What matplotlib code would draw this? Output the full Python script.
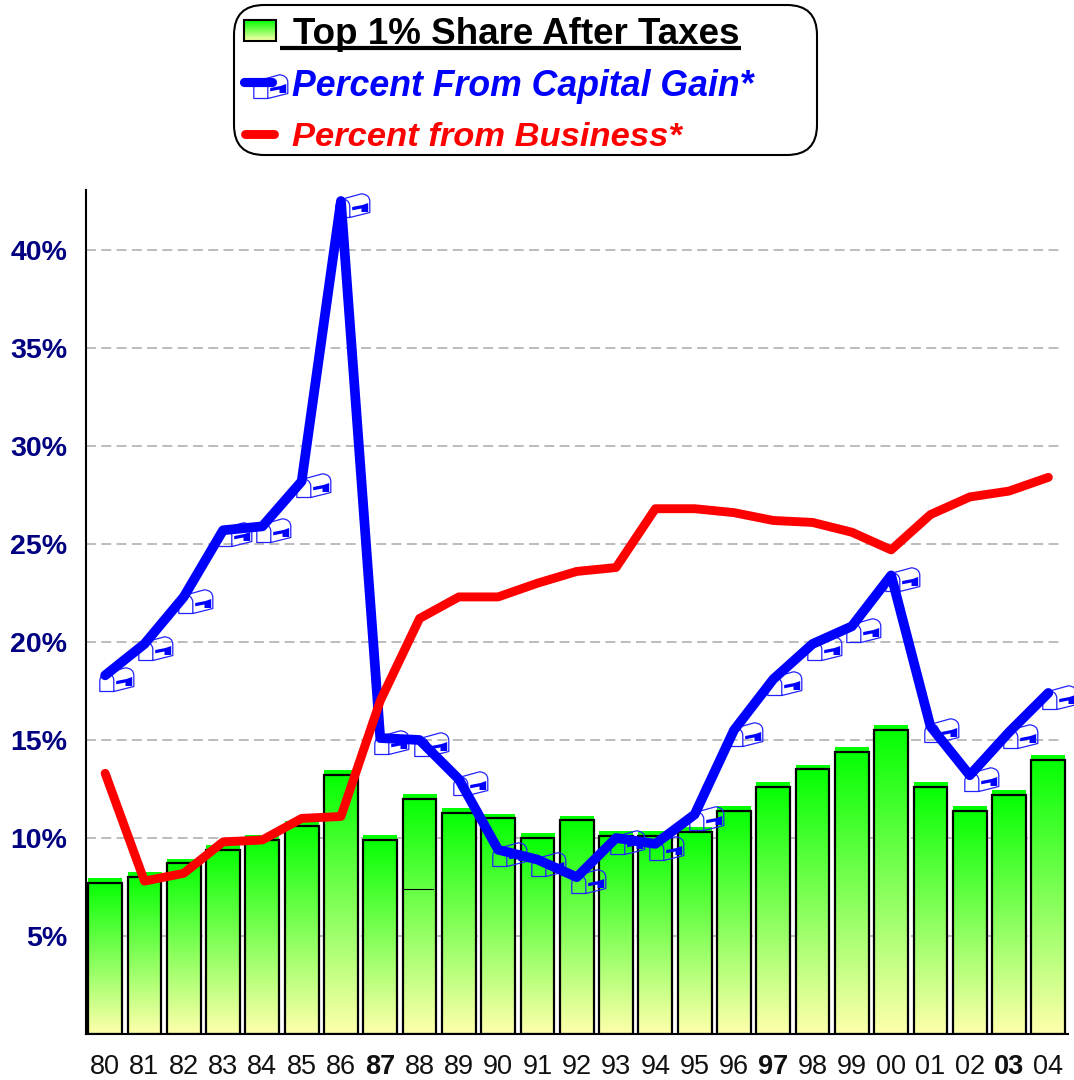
import numpy as np
import matplotlib
matplotlib.use("Agg")
import matplotlib.pyplot as plt
from matplotlib.path import Path
from matplotlib.patches import FancyBboxPatch, Rectangle

years = ["80","81","82","83","84","85","86","87","88","89","90","91","92","93","94","95","96","97","98","99","00","01","02","03","04"]
bold_years = ["87","97","03"]
top1_share = [7.7,8.0,8.7,9.4,9.9,10.6,13.2,9.9,12.0,11.3,11.0,10.0,10.9,10.1,10.1,10.3,11.4,12.6,13.5,14.4,15.5,12.6,11.4,12.2,14.0]
capital_gain = [18.3,19.9,22.3,25.7,25.9,28.2,42.5,15.1,15.0,13.0,9.4,8.9,8.0,10.0,9.7,11.2,15.5,18.1,19.9,20.8,23.4,15.7,13.2,15.4,17.4]
business = [13.3,7.8,8.2,9.8,9.9,11.0,11.1,17.0,21.2,22.3,22.3,23.0,23.6,23.8,26.8,26.8,26.6,26.2,26.1,25.6,24.7,26.5,27.4,27.7,28.4]
y_ticks = [5,10,15,20,25,30,35,40]

W, H = 1074, 1080
DPI = 100
plt.rcParams['font.family'] = ['Liberation Sans', 'DejaVu Sans']
fig = plt.figure(figsize=(W/DPI, H/DPI), dpi=DPI, facecolor='white')
L, R, T, B = 85.5, 1068, 190, 1034
ax = fig.add_axes([L/W, 1-B/H, (R-L)/W, (B-T)/H])
ax.set_facecolor('none')
YMAX = (B-T)/19.6

GREEN = np.array([0, 255, 0])/255
PALE = np.array([255, 255, 172])/255
t = np.linspace(0, 1, 128)[:, None, None]
grad = GREEN[None, None, :]*(1-t) + PALE[None, None, :]*t

ax.hlines(y_ticks, -0.5, 24.35, color='#aaaaaa', lw=1.1, linestyle=(0, (6.5, 3.5)), zorder=0)
bw = 0.86
lift = 0.22
for i, v in enumerate(top1_share):
    ax.imshow(grad, extent=(i-bw/2, i+bw/2, 0, v+lift), aspect='auto', zorder=2, interpolation='bilinear')
    ax.add_patch(Rectangle((i-bw/2, 0), bw, v, fill=False, ec='black', lw=1.6, zorder=3))
ax.plot([7.55, 8.35], [7.4, 7.4], color='black', lw=0.8, zorder=3.2)
ax.set_xlim(-0.5, 24.5)
ax.set_ylim(0, YMAX)

M, L_, C, Z = Path.MOVETO, Path.LINETO, Path.CURVE3, Path.CLOSEPOLY
# mailbox marker outline, in pixels relative to the data point (y up)
box_verts = [(-5.7,-5),(-5.7,-16),(8.3,-16),(8.3,-4),
             (8.3,-4),(7,3),(0,2),(-5,1),(-5.7,-5),
             (8.3,-16),(28.3,-11),(28.3,0),(28.3,7),(20,7.7),(3,3)]
box_codes = [M,L_,L_,L_,
             M,C,C,C,C,
             M,L_,L_,C,C,L_]
box = Path(box_verts, box_codes)
flag_verts = [(10.7,-5.5),(21,-3.5),(26.7,-1.5),(26.7,-10.5),(20,-10.5),(20,-7),(10.7,-8.8),(10.7,-5.5),(28.3,0)]
flag = Path(flag_verts, [M,L_,L_,L_,L_,L_,L_,Z,M])
ms = 2*28.3*72/DPI   # largest coordinate maps to half the marker size
xs = np.arange(len(years))
ax.plot(xs, capital_gain, ls='none', marker=box, ms=ms, mfc='none', mec='#2222ff', mew=0.9, zorder=4, clip_on=False)
ax.plot(xs, capital_gain, ls='none', marker=flag, ms=ms, mfc='#0000ff', mec='none', zorder=4.1, clip_on=False)
ax.plot(xs, capital_gain, color='#0000ff', lw=7.0, solid_joinstyle='round', solid_capstyle='round', zorder=5, clip_on=False)
ax.plot(xs, business, color='#ff0000', lw=6.4, solid_joinstyle='round', solid_capstyle='round', zorder=6, clip_on=False)

for s in ['top', 'right']:
    ax.spines[s].set_visible(False)
for s in ['left', 'bottom']:
    ax.spines[s].set_linewidth(1.5)
ax.set_yticks(y_ticks)
ax.set_yticklabels([f"{v}%" for v in y_ticks], fontsize=20.5, fontweight='bold', color='#000080')
ax.tick_params(axis='y', length=0, pad=13)
ax.set_xticks(xs)
ax.set_xticklabels(years, fontsize=19.5)
ax.tick_params(axis='x', direction='in', length=11, width=0.9, color='#333333', pad=14.5)
for lab in ax.get_xticklabels():
    lab.set_color('#111111')
    if lab.get_text() in bold_years:
        lab.set_fontweight('bold')

# legend in pixel coordinates
ov = fig.add_axes([0, 0, 1, 1])
ov.axis('off'); ov.patch.set_alpha(0)
ov.add_patch(FancyBboxPatch((234+30, 5+30), 583-60, 150-60, boxstyle='round,pad=30,rounding_size=30',
                            fc='white', ec='black', lw=1.5))
ov.imshow(grad, extent=(244, 276, 41, 20), aspect='auto', zorder=3)
ov.add_patch(Rectangle((244, 20), 32, 21, fill=False, ec='black', lw=1.5, zorder=4))
ov.set_xlim(0, W); ov.set_ylim(H, 0)
ov.text(293, 44, "Top 1% Share After Taxes", fontsize=26.5, fontweight='bold', color='black', va='baseline', ha='left', zorder=5)
ov.plot([280, 741], [47.5, 47.5], color='black', lw=3, solid_capstyle='butt', zorder=5)
ov.text(292, 96, "Percent From Capital Gain*", fontsize=25.7, fontweight='bold', style='italic', color='#0000ff', va='baseline', zorder=5)
ov.text(292, 146, "Percent from Business*", fontsize=24.8, fontweight='bold', style='italic', color='#ff0000', va='baseline', zorder=5)
ov.plot([259], [82], ls='none', marker=box, ms=ms, mfc='none', mec='#2222ff', mew=0.9, zorder=4)
ov.plot([259], [82], ls='none', marker=flag, ms=ms, mfc='#0000ff', mec='none', zorder=4.1)
ov.plot([244, 272], [82, 82], color='#0000ff', lw=6.6, solid_capstyle='round', zorder=5)
ov.plot([244.5, 273.5], [133.5, 133.5], color='#ff0000', lw=6.4, solid_capstyle='round', zorder=5)
ov.set_xlim(0, W); ov.set_ylim(H, 0)

fig.savefig("out.png", dpi=DPI)
